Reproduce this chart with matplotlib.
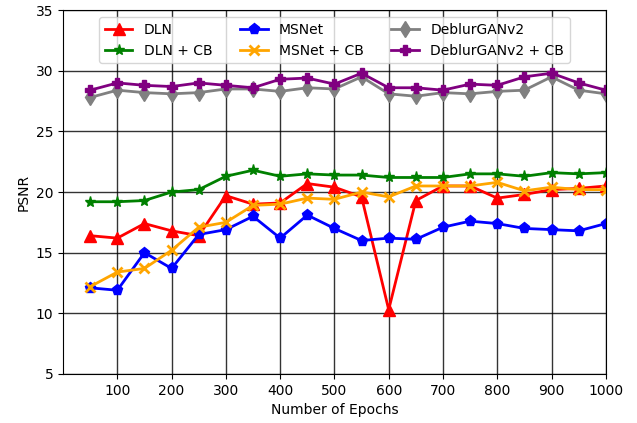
import matplotlib
matplotlib.use('Agg')
import matplotlib.pyplot as plt

epochs = [50, 100, 150, 200, 250, 300, 350, 400, 450, 500,
          550, 600, 650, 700, 750, 800, 850, 900, 950, 1000]

dln = [16.4, 16.2, 17.4, 16.8, 16.4, 19.7, 19.0, 19.1, 20.7, 20.4,
       19.6, 10.3, 19.3, 20.5, 20.5, 19.5, 19.8, 20.2, 20.3, 20.5]
dln_cb = [19.2, 19.2, 19.3, 20.0, 20.2, 21.3, 21.8, 21.3, 21.5, 21.4,
          21.4, 21.2, 21.2, 21.2, 21.5, 21.5, 21.3, 21.6, 21.5, 21.6]
msnet = [12.1, 11.9, 15.0, 13.7, 16.5, 16.9, 18.0, 16.2, 18.1, 17.0,
         16.0, 16.2, 16.1, 17.1, 17.6, 17.4, 17.0, 16.9, 16.8, 17.4]
msnet_cb = [12.2, 13.4, 13.7, 15.2, 17.1, 17.5, 18.9, 19.0, 19.5, 19.4,
            20.0, 19.6, 20.5, 20.5, 20.5, 20.8, 20.1, 20.4, 20.2, 20.2]
gan = [27.8, 28.4, 28.2, 28.1, 28.2, 28.5, 28.5, 28.3, 28.6, 28.5,
       29.5, 28.1, 27.9, 28.2, 28.1, 28.3, 28.4, 29.5, 28.4, 28.1]
gan_cb = [28.4, 29.0, 28.8, 28.7, 29.0, 28.8, 28.6, 29.3, 29.4, 28.9,
          29.8, 28.6, 28.6, 28.4, 28.9, 28.8, 29.5, 29.8, 29.0, 28.4]

series = [
    ('DLN', dln, 'red', '^'),
    ('DLN + CB', dln_cb, 'green', '*'),
    ('MSNet', msnet, 'blue', 'p'),
    ('MSNet + CB', msnet_cb, 'orange', 'x'),
    ('DeblurGANv2', gan, 'gray', 'd'),
    ('DeblurGANv2 + CB', gan_cb, 'purple', 'P'),
]

fig, ax = plt.subplots(figsize=(6.37, 4.23), dpi=100)
fig.subplots_adjust(left=0.099, right=0.951, top=0.976, bottom=0.116)

for name, vals, col, mk in series:
    ms = 8 if mk in ('d', '^', 'p', '*') else 7
    mew = 2 if mk == 'x' else 1
    ax.plot(epochs, vals, color=col, marker=mk, lw=2, ms=ms, mew=mew, label=name)

ax.set_xlim(0, 1000)
ax.set_ylim(5, 35)
ax.set_xticks(range(100, 1001, 100))
ax.set_yticks(range(5, 36, 5))
ax.grid(True, color='k', lw=1, alpha=0.8)
ax.tick_params(labelsize=10)
ax.set_xlabel('Number of Epochs', fontsize=10)
ax.set_ylabel('PSNR', fontsize=10)
ax.legend(loc='upper center', ncol=3, fontsize=10, framealpha=0.8)

fig.savefig('out.png')
